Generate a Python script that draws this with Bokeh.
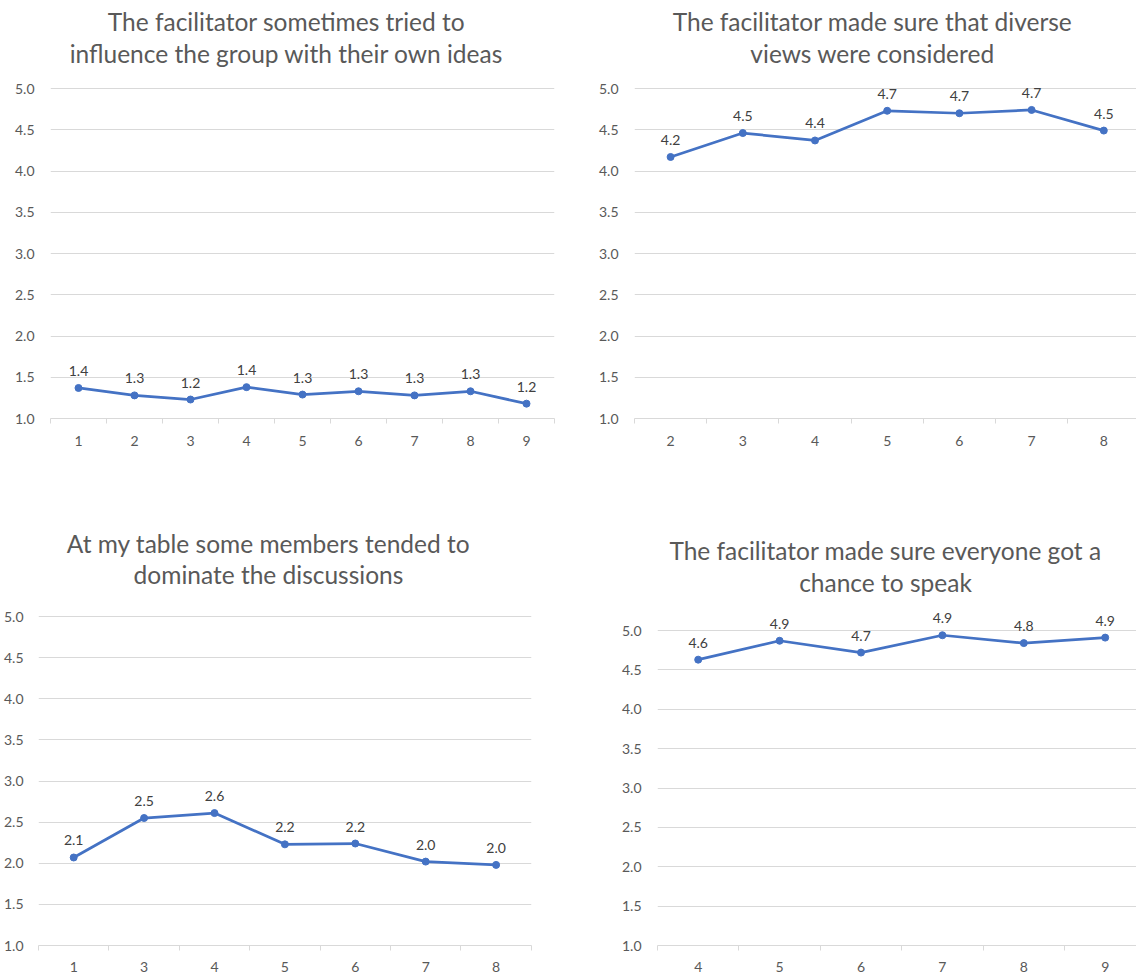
from bokeh.plotting import figure
from bokeh.models import Range1d, FixedTicker, Label, NumeralTickFormatter
from bokeh.layouts import column, row
from bokeh.embed import file_html
from bokeh.resources import INLINE
from bokeh.core.properties import value

# ---------------- data ----------------
tl_title = ["The facilitator sometimes tried to", "influence the group with their own ideas"]
tl_cats = ["1", "2", "3", "4", "5", "6", "7", "8", "9"]
tl_vals = [1.37, 1.28, 1.23, 1.38, 1.29, 1.33, 1.28, 1.33, 1.18]

tr_title = ["The facilitator made sure that diverse", "views were considered"]
tr_cats = ["2", "3", "4", "5", "6", "7", "8"]
tr_vals = [4.17, 4.46, 4.37, 4.73, 4.70, 4.74, 4.49]

bl_title = ["At my table some members tended to", "dominate the discussions"]
bl_cats = ["1", "3", "4", "5", "6", "7", "8"]
bl_vals = [2.07, 2.55, 2.61, 2.23, 2.24, 2.02, 1.98]

br_title = ["The facilitator made sure everyone got a", "chance to speak"]
br_cats = ["4", "5", "6", "7", "8", "9"]
br_vals = [4.63, 4.87, 4.72, 4.94, 4.84, 4.91]

y_ticks = [1.0, 1.5, 2.0, 2.5, 3.0, 3.5, 4.0, 4.5, 5.0]

# ---------------- style ----------------
FONT = "Lato"
LINE = "#4472C4"
GRID = "#D9D9D9"
AXIS_TXT = "#595959"
LABEL_TXT = "#404040"
TITLE_FS = "24.5px"


def make_panel(title, cats, vals, fig_x, fig_y, width, height,
               f_left, f_right, f_bottom, y5, cat_px,
               title_cx, title_ys, x_standoff, y_standoff=16):
    n = len(cats)
    f_top = fig_y
    unit = (f_bottom - y5) / 4.0
    y_end = 1.0 + (f_bottom - f_top) / unit
    x_end = -0.5 + (f_right - f_left) / cat_px
    p = figure(width=width, height=height, output_backend="svg", toolbar_location=None,
               x_range=Range1d(-0.5, x_end), y_range=Range1d(1.0, y_end),
               min_border_left=f_left - fig_x, min_border_right=fig_x + width - f_right,
               min_border_top=0, min_border_bottom=fig_y + height - f_bottom)
    p.outline_line_color = None
    p.background_fill_color = "white"
    p.border_fill_color = "white"

    # x axis (categories at integer positions, tick marks between categories)
    xa = p.xaxis[0]
    xa.ticker = FixedTicker(ticks=list(range(n)), minor_ticks=[i - 0.5 for i in range(n + 1)])
    xa.major_label_overrides = {i: c for i, c in enumerate(cats)}
    xa.major_tick_out = 0
    xa.major_tick_in = 0
    xa.major_tick_line_color = None
    xa.minor_tick_out = 5
    xa.minor_tick_in = 0
    xa.minor_tick_line_color = GRID
    xa.axis_line_color = GRID
    xa.major_label_text_font = FONT
    xa.major_label_text_font_size = "14px"
    xa.major_label_text_color = AXIS_TXT
    xa.major_label_standoff = x_standoff
    p.xgrid.visible = False

    ya = p.yaxis[0]
    ya.ticker = FixedTicker(ticks=y_ticks)
    ya.formatter = NumeralTickFormatter(format="0.0")
    ya.axis_line_color = None
    ya.major_tick_line_color = None
    ya.minor_tick_line_color = None
    ya.major_tick_out = 0
    ya.major_tick_in = 0
    ya.major_label_text_font = FONT
    ya.major_label_text_font_size = "14px"
    ya.major_label_text_color = AXIS_TXT
    ya.major_label_standoff = y_standoff
    p.ygrid.ticker = FixedTicker(ticks=y_ticks)
    p.ygrid.grid_line_color = GRID
    p.ygrid.grid_line_width = 1

    xs = list(range(n))
    p.line(xs, vals, line_color=LINE, line_width=2.75)
    p.scatter(xs, vals, size=7, fill_color=LINE, line_color=LINE)
    p.text(xs, vals, text=[f"{v:.1f}" for v in vals], text_align="center",
           text_baseline="middle", y_offset=-17, text_font=value(FONT),
           text_font_size="14px", text_color=LABEL_TXT)

    for line_txt, ty in zip(title, title_ys):
        p.add_layout(Label(x=title_cx - f_left, y=f_bottom - ty, x_units="screen", y_units="screen",
                           text=line_txt, text_align="center", text_baseline="middle",
                           text_font=FONT, text_font_size=TITLE_FS, text_color=AXIS_TXT))
    return p


p1 = make_panel(tl_title, tl_cats, tl_vals, 0, 0, 564, 478,
                50, 554, 418, 88, 56.0, 286, [21, 53], 12)
p2 = make_panel(tr_title, tr_cats, tr_vals, 564, 0, 572, 478,
                634, 1136, 418, 88, 72.2, 872, [21, 53], 12)
p3 = make_panel(bl_title, bl_cats, bl_vals, 0, 478, 564, 498,
                38, 531, 945, 616, 70.4, 268, [543, 574], 11, y_standoff=15)
p4 = make_panel(br_title, br_cats, br_vals, 564, 478, 572, 498,
                657, 1136, 948, 631, 81.4, 885, [553, 585], 11)

layout = column(row(p1, p2, spacing=0), row(p3, p4, spacing=0), spacing=0)
open("out.html", "w").write(file_html(layout, INLINE))
